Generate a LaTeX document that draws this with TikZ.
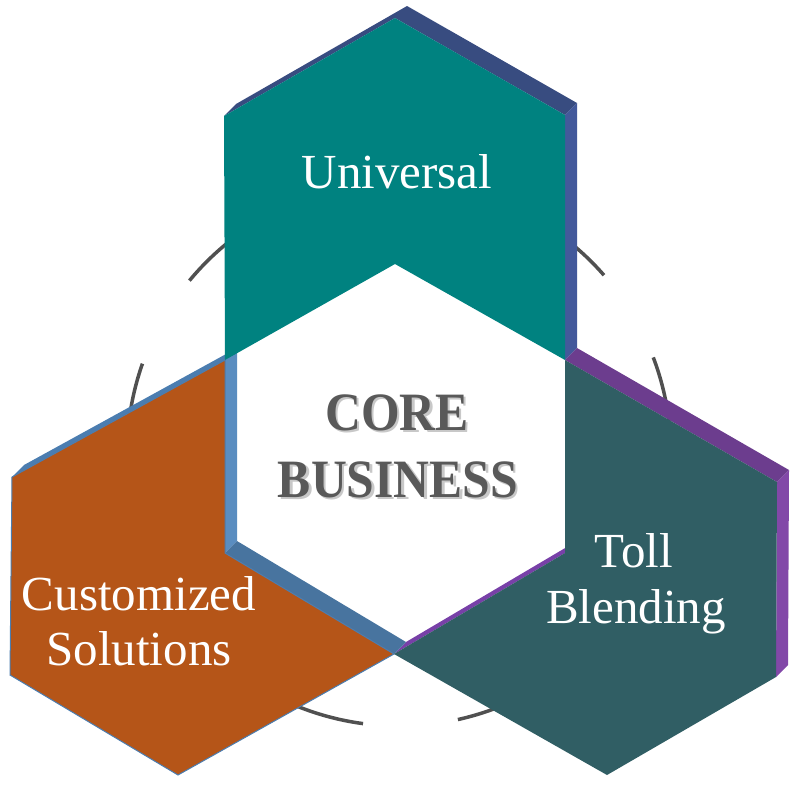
\documentclass[tikz,border=0pt]{standalone}
\usepackage{fontspec}
\setmainfont{Liberation Serif}
\usetikzlibrary{calc}
\definecolor{tealF}{HTML}{008280}
\definecolor{tealTop}{HTML}{384C80}
\definecolor{tealSide}{HTML}{43599B}
\definecolor{orF}{HTML}{B55518}
\definecolor{orTop}{HTML}{4B7DB0}
\definecolor{orSide}{HTML}{5A8DC0}
\definecolor{orLow}{HTML}{48749F}
\definecolor{grF}{HTML}{305E64}
\definecolor{grTop}{HTML}{6C3D8E}
\definecolor{grSide}{HTML}{8248A8}
\definecolor{grLow}{HTML}{7840A8}
\definecolor{arcC}{HTML}{505050}
\definecolor{coreC}{HTML}{595959}
\definecolor{shadowC}{HTML}{C8C8C8}
\newcommand{\shadowtext}[1]{\rlap{\hspace{2.5pt}\raisebox{-2.5pt}{\color{shadowC}#1}}#1}
\begin{document}
\begin{tikzpicture}[x=1pt,y=-1pt,
  lbl/.style={text=white, font=\fontsize{49}{55}\selectfont, anchor=base, inner sep=0pt},
  core/.style={text=coreC, font=\fontsize{54}{60}\selectfont\bfseries, anchor=base, inner sep=0pt},
  ring/.style={draw=arcC, line width=3.5pt}]
\useasboundingbox (0,0) rectangle (800,785);

% ring arcs (partly hidden behind the shapes)
\foreach \a/\b in {120/140.4, 160.6/180, 41.1/58, 5/20.8, 240/262.4, 282.5/300}
  \draw[ring] plot[domain=\a:\b, samples=30, smooth] ({399+272*cos(\x)},{454-272*sin(\x)});

% vertices
\coordinate (W1) at (395,264);
\coordinate (W2) at (565,360);
\coordinate (W3) at (565,553);
\coordinate (W4) at (394,654);
\coordinate (W5) at (225,553);
\coordinate (W6) at (225,360);
\coordinate (T1) at (395,18);
\coordinate (T2) at (565,115);
\coordinate (T6) at (224,116);
\coordinate (G1) at (777,482);
\coordinate (G2) at (776,677);
\coordinate (G3) at (607,775);
\coordinate (O1) at (12,477);
\coordinate (O2) at (10,675);
\coordinate (O3) at (178,775);

% teal extrusion
\fill[tealTop] (T6) -- ($(T6)+(12,-12)$) -- ($(T1)+(12,-12)$) -- ($(T2)+(12,-12)$) -- (T2) -- (T1) -- cycle;
\fill[tealSide] (T2) -- ($(T2)+(12,-12)$) -- ($(W2)+(12,-12)$) -- (W2) -- cycle;
% green extrusion
\fill[grTop] (W2) -- ($(W2)+(12,-12)$) -- ($(G1)+(12,-12)$) -- (G1) -- cycle;
\fill[grSide] (G1) -- ($(G1)+(12,-12)$) -- ($(G2)+(12,-12)$) -- (G2) -- cycle;
\fill[grLow] (W4) -- ($(W4)+(12,-12)$) -- ($(W3)+(12,-12)$) -- (W3) -- cycle;
% orange extrusion
\fill[orTop] (O1) -- ($(O1)+(12,-12)$) -- ($(W6)+(12,-12)$) -- (W6) -- cycle;
\fill[orSide] (W6) -- ($(W6)+(12,-12)$) -- ($(W5)+(12,-12)$) -- (W5) -- cycle;
\fill[orLow] (W5) -- ($(W5)+(12,-12)$) -- ($(W4)+(12,-12)$) -- (W4) -- cycle;

% front faces
\fill[orF, draw=orTop, line width=1pt] (W6) -- (O1) -- (O2) -- (O3) -- (W4) -- (W5) -- cycle;
\fill[grF] (W2) -- (G1) -- (G2) -- (G3) -- (W4) -- (W3) -- cycle;
\fill[tealF] (T1) -- (T2) -- (W2) -- (W1) -- (W6) -- (T6) -- cycle;

% labels
\node[lbl] (uni) at (397,188) {Universal};
\node[lbl] (cus1) at (139,610) {Customized};
\node[lbl] (cus2) at (139,665) {Solutions};
\node[lbl] (tol1) at (634,567) {Toll};
\node[lbl] (tol2) at (636,623) {Blending};

% core text with soft shadow
\node[core] (core) at (397,430) {\scalebox{0.92}[1]{\shadowtext{CORE}}};
\node[core] (bus) at (398,497) {\scalebox{0.92}[1]{\shadowtext{BUSINESS}}};
\end{tikzpicture}
\end{document}
